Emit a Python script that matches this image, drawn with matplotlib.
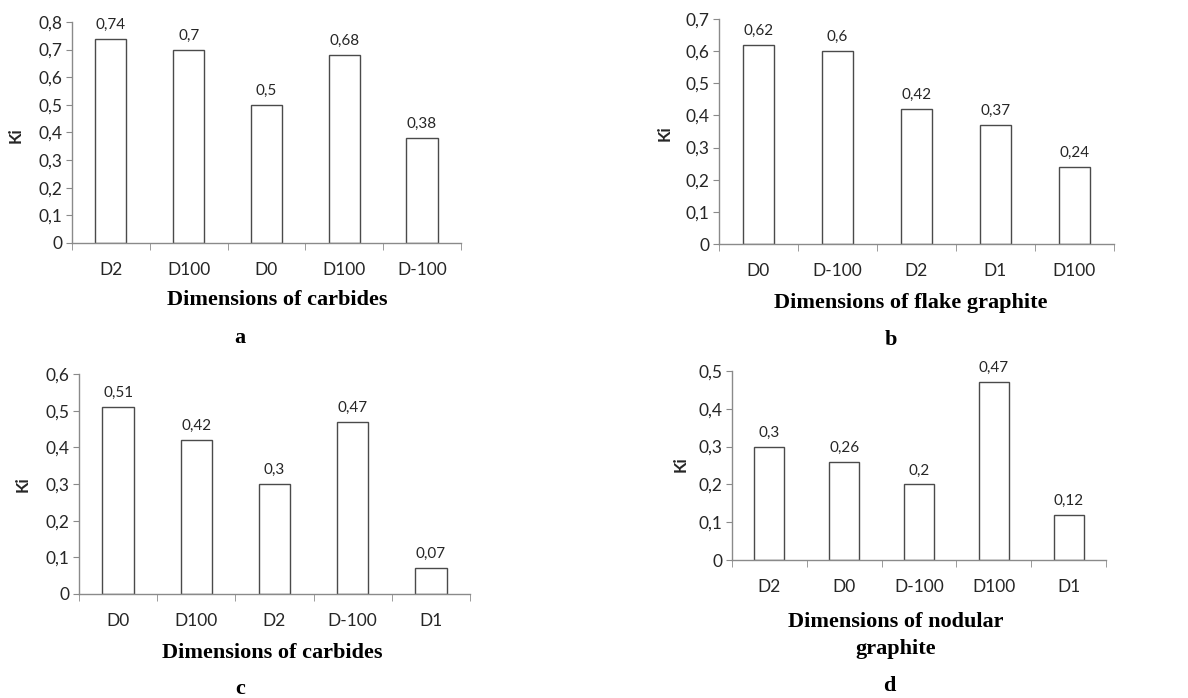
import matplotlib
matplotlib.use("Agg")
import matplotlib.pyplot as plt
from matplotlib.ticker import FuncFormatter, FixedLocator

# ------------------ DATA ------------------

cats_a = ["D2", "D100", "D0", "D100", "D-100"]
vals_a = [0.74, 0.70, 0.50, 0.68, 0.38]

cats_b = ["D0", "D-100", "D2", "D1", "D100"]
vals_b = [0.62, 0.60, 0.42, 0.37, 0.24]

cats_c = ["D0", "D100", "D2", "D-100", "D1"]
vals_c = [0.51, 0.42, 0.30, 0.47, 0.07]

cats_d = ["D2", "D0", "D-100", "D100", "D1"]
vals_d = [0.30, 0.26, 0.20, 0.47, 0.12]

SANS = "Lato"
SERIF = "Liberation Serif"
AXIS_GREY = "#8a8a8a"
EDGE = "#4a4a4a"
TEXT = "#262626"


def comma(v):
    s = ("%.2f" % v).rstrip("0").rstrip(".")
    return s.replace(".", ",")


def draw_panel(fig, rect, cats, vals, ymax, ystep):
    ax = fig.add_axes(rect)
    x = list(range(len(cats)))
    ax.bar(x, vals, width=0.4, color="white", edgecolor=EDGE, linewidth=1.0)
    ax.set_xlim(-0.5, len(cats) - 0.5)
    ax.set_ylim(0, ymax)

    for xi, v in zip(x, vals):
        ax.annotate(comma(v), (xi, v), xytext=(0, 5), textcoords="offset points",
                    ha="center", va="bottom", fontsize=11, family=SANS, color=TEXT)

    n = int(round(ymax / ystep))
    ax.yaxis.set_major_locator(FixedLocator([i * ystep for i in range(n + 1)]))
    ax.yaxis.set_major_formatter(FuncFormatter(lambda v, p: comma(v)))
    ax.set_xticks(x)
    ax.set_xticklabels(cats)
    ax.xaxis.set_minor_locator(FixedLocator([i - 0.5 for i in range(len(cats) + 1)]))
    ax.tick_params(axis="x", which="major", length=0, pad=14, labelsize=12.5, labelcolor=TEXT)
    ax.tick_params(axis="x", which="minor", length=5, color=AXIS_GREY, direction="out")
    ax.tick_params(axis="y", length=4, color=AXIS_GREY, direction="out", pad=3,
                   labelsize=12.5, labelcolor=TEXT)
    for lab in ax.get_xticklabels() + ax.get_yticklabels():
        lab.set_family(SANS)

    for side in ["top", "right"]:
        ax.spines[side].set_visible(False)
    for side in ["left", "bottom"]:
        ax.spines[side].set_color(AXIS_GREY)
        ax.spines[side].set_linewidth(1.0)
    return ax


def fig_text(fig, px, py, s, **kw):
    fig.text(px / 1188, 1 - py / 698, s, ha="center", va="center", **kw)


# ------------------ MAIN ------------------

def main():
    fig = plt.figure(figsize=(11.88, 6.98), dpi=100)

    draw_panel(fig, [0.0606, 0.6519, 0.3274, 0.3166], cats_a, vals_a, 0.8, 0.1)
    draw_panel(fig, [0.6052, 0.6504, 0.3325, 0.3224], cats_b, vals_b, 0.7, 0.1)
    draw_panel(fig, [0.0665, 0.1490, 0.3291, 0.3152], cats_c, vals_c, 0.6, 0.1)
    draw_panel(fig, [0.6162, 0.1977, 0.3148, 0.2708], cats_d, vals_d, 0.5, 0.1)

    serif = dict(family=SERIF, fontweight="bold", fontsize=16, color="black")
    ki = dict(family=SANS, fontweight="bold", fontsize=12, rotation=90, color=TEXT)

    # panel a
    fig_text(fig, 16, 135, "Ki", **ki)
    fig_text(fig, 277, 300, "Dimensions of carbides", **serif)
    fig_text(fig, 240, 338, "a", **serif)
    # panel b
    fig_text(fig, 665, 133, "Ki", **ki)
    fig_text(fig, 911, 303, "Dimensions of flake graphite", **serif)
    fig_text(fig, 891, 340, "b", **serif)
    # panel c
    fig_text(fig, 23, 484, "Ki", **ki)
    fig_text(fig, 272, 653, "Dimensions of carbides", **serif)
    fig_text(fig, 240, 689, "c", **serif)
    # panel d
    fig_text(fig, 681, 464, "Ki", **ki)
    fig_text(fig, 896, 622, "Dimensions of nodular", **serif)
    fig_text(fig, 896, 649, "graphite", **serif)
    fig_text(fig, 889, 686, "d", **serif)

    fig.savefig("out.png", dpi=100)
    plt.close(fig)


if __name__ == "__main__":
    main()
